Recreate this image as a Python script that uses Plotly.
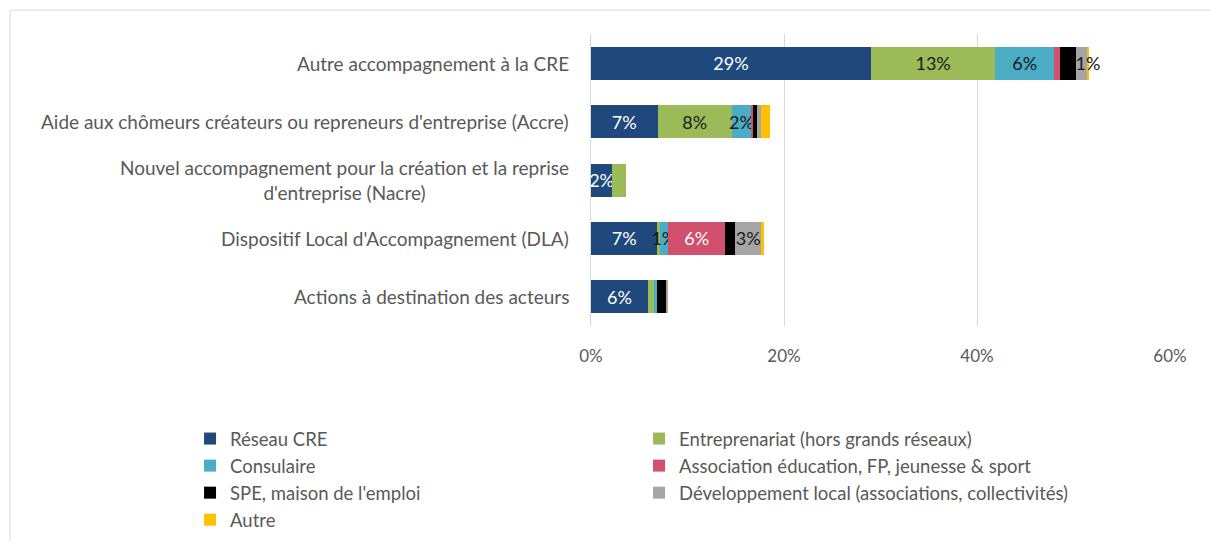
import plotly.graph_objects as go

categories = [
    "Autre accompagnement à la CRE",
    "Aide aux chômeurs créateurs ou repreneurs d'entreprise (Accre)",
    "Nouvel accompagnement pour la création et la reprise<br>d'entreprise (Nacre)",
    "Dispositif Local d'Accompagnement (DLA)",
    "Actions à destination des acteurs",
]

reseau_cre = [29.0, 6.9, 2.2, 6.9, 5.9]
entreprenariat = [12.9, 7.7, 1.4, 0.2, 0.6]
consulaire = [6.1, 2.0, 0.0, 0.9, 0.3]
association = [0.6, 0.2, 0.0, 5.9, 0.0]
spe = [1.7, 0.4, 0.0, 1.0, 1.0]
dev_local = [1.1, 0.4, 0.0, 2.8, 0.1]
autre = [0.2, 0.9, 0.0, 0.2, 0.0]

# data labels as printed on the original
lbl_cre = ["29%", "7%", "2%", "7%", "6%"]
lbl_ent = ["13%", "8%", "", "", ""]
lbl_cons = ["6%", "2%", "", "1%", ""]
lbl_asso = ["", "", "", "6%", ""]
lbl_spe = ["", "", "", "", ""]
lbl_dev = ["", "", "", "3%", ""]
lbl_autre = ["1%", "", "", "", ""]

tick_vals = [0, 20, 40, 60]
tick_text = ["0%", "20%", "40%", "60%"]

series = [
    ("Réseau CRE", reseau_cre, lbl_cre, "#1F497D", "white"),
    ("Entreprenariat (hors grands réseaux)", entreprenariat, lbl_ent, "#9BBB59", "#1a1a1a"),
    ("Consulaire", consulaire, lbl_cons, "#4BACC6", "#1a1a1a"),
    ("Association éducation, FP, jeunesse & sport", association, lbl_asso, "#D0506E", "white"),
    ("SPE, maison de l'emploi", spe, lbl_spe, "#000000", "white"),
    ("Développement local (associations, collectivités)", dev_local, lbl_dev, "#A5A5A5", "#1a1a1a"),
    ("Autre", autre, lbl_autre, "#FFC000", "#1a1a1a"),
]

fig = go.Figure()
for name, vals, lbls, color, tcolor in series:
    fig.add_trace(go.Bar(
        name=name, y=categories, x=vals, orientation="h",
        marker=dict(color=color, line=dict(width=0)),
        text=lbls,
        textposition="inside", insidetextanchor="middle",
        constraintext="none", textangle=0,
        textfont=dict(color=tcolor, size=18, family="Lato"),
        hoverinfo="x+name",
    ))

for cat in categories:
    fig.add_annotation(
        x=0, xref="paper", y=cat, yref="y", text=cat,
        xanchor="right", xshift=-20, align="center", showarrow=False,
        font=dict(size=19, color="#595959", family="Lato"),
    )

# outer frame like the original chart area
fig.add_shape(type="rect", xref="paper", yref="paper",
              x0=-1.0035, x1=1.12, y0=-0.9, y1=1.082,
              line=dict(color="#D9D9D9", width=1), fillcolor="rgba(0,0,0,0)",
              layer="below")

fig.update_layout(
    barmode="stack",
    bargap=0.435,
    width=1210, height=541,
    margin=dict(l=591, r=40, t=34, b=215, autoexpand=False),
    plot_bgcolor="white", paper_bgcolor="white",
    font=dict(family="Lato", size=16, color="#595959"),
    xaxis=dict(range=[0, 60], tickvals=tick_vals, ticktext=tick_text,
               showgrid=True, gridcolor="#D9D9D9", gridwidth=1,
               zeroline=False, showline=False, ticklabelstandoff=18,
               tickfont=dict(size=17, color="#595959")),
    yaxis=dict(autorange="reversed", showticklabels=False, showgrid=False,
               showline=True, linecolor="#D9D9D9", zeroline=False),
    legend=dict(orientation="h", x=-0.6925, xanchor="left", y=-0.322, yanchor="top",
                entrywidth=404, entrywidthmode="pixels", traceorder="normal",
                font=dict(size=18.5, color="#595959"), itemwidth=30),
    showlegend=True,
)

fig.write_html("out.html", config={"displayModeBar": False},
               post_script="document.body.style.margin='0';")
